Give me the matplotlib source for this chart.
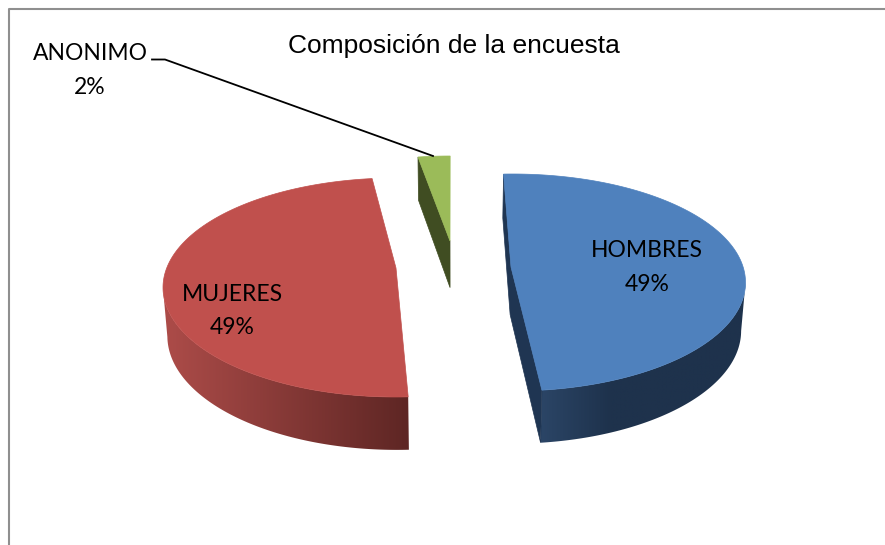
import matplotlib
matplotlib.use('Agg')
import matplotlib.pyplot as plt
import numpy as np
from matplotlib.colors import to_rgb
from matplotlib.patches import Polygon

title = 'Composición de la encuesta'
names = ['HOMBRES', 'MUJERES', 'ANONIMO']
shares = [48.5, 49.1, 2.2]
pct_labels = ['49%', '49%', '2%']

# posiciones en pixeles de la imagen
apex_x = [511, 396, 450]
apex_y = [267, 268, 241]
center_x = [512.5, 396, 450]
center_y = [282.5, 287.5, 264.5]
radius_y = [108.5, 109.5, 108.5]
start_deg = [92.2, -87, 97.9]
label_xy = [(647, 267.5), (232, 311), (90, 70.5)]

top_colors = ['#4f81bd', '#c0504d', '#9bbb59']
wall_left = ['#2b4566', '#ad4c49', '#404d22']
wall_right = ['#1e324c', '#5e2624', '#404d22']
inner_wall = ['#1f3552', None, '#404d22']

RX = 233
VANISH_X = 454


def lower(x, y):
    # la cara inferior se ve un poco mas chica y baja (perspectiva)
    x = np.asarray(x, dtype=float)
    y = np.asarray(y, dtype=float)
    return VANISH_X + (x - VANISH_X) * 0.985, y + 37 + 0.04 * y


def arc_points(i):
    sweep = shares[i] / sum(shares) * 360
    t = np.radians(np.linspace(start_deg[i], start_deg[i] - sweep, 200))
    x = center_x[i] + RX * np.cos(t)
    y = center_y[i] - radius_y[i] * np.sin(t)
    return x, y, t


def draw_wall(ax, i):
    x, y, t = arc_points(i)
    front = np.sin(t) <= 0
    x, y = x[front], y[front]
    if len(x) < 2:
        return
    lx, ly = lower(x, y)
    pts = list(zip(x, y)) + list(zip(lx[::-1], ly[::-1]))
    wall = Polygon(pts, closed=True, fc='none', ec='none', zorder=2)
    ax.add_patch(wall)

    # degradado horizontal recortado con la forma de la pared
    xmin, xmax = min(x.min(), lx.min()), max(x.max(), lx.max())
    # rojo: oscuro a la derecha, azul: oscuro a partir de x = 610
    xend = 610 if i == 0 else xmax
    xs = np.linspace(xmin, xmax, 256)
    f = np.clip((xs - xmin) / (xend - xmin), 0, 1)[None, :, None]
    c1 = np.array(to_rgb(wall_left[i]))
    c2 = np.array(to_rgb(wall_right[i]))
    grad = c1 + (c2 - c1) * f
    im = ax.imshow(grad, extent=[xmin, xmax, max(ly.max(), y.max()), min(ly.min(), y.min())],
                   aspect='auto', zorder=2, interpolation='bilinear')
    im.set_clip_path(wall)


def draw_inner(ax, i):
    if inner_wall[i] is None:
        return
    x, y, t = arc_points(i)
    # corte visible del lado izquierdo de la rebanada
    if i == 0:
        ex, ey = [x[0], apex_x[i], x[-1]], [y[0], apex_y[i], y[-1]]
    else:
        ex, ey = [x[0], apex_x[i]], [y[0], apex_y[i]]
    lx, ly = lower(ex, ey)
    pts = list(zip(ex, ey)) + list(zip(lx[::-1], ly[::-1]))
    ax.add_patch(Polygon(pts, closed=True, fc=inner_wall[i], ec=inner_wall[i], lw=0.5, zorder=2.5))


def draw_top(ax, i):
    x, y, t = arc_points(i)
    pts = [(apex_x[i], apex_y[i])] + list(zip(x, y))
    ax.add_patch(Polygon(pts, closed=True, fc=top_colors[i], ec=top_colors[i], lw=0.5, zorder=3))


def main():
    fig = plt.figure(figsize=(8.85, 5.45), dpi=100)
    ax = fig.add_axes([0, 0, 1, 1])
    ax.axis('off')

    # marco del grafico (se corta a la derecha y abajo)
    ax.plot([9, 9, 885], [545, 9, 9], color='#8f8f8f', lw=1.5, zorder=1)

    for i in range(len(names)):
        draw_wall(ax, i)
        draw_inner(ax, i)
        draw_top(ax, i)

    # linea guia de ANONIMO
    ax.plot([152, 165, 433], [59.5, 59.5, 156], color='black', lw=1.3, zorder=4)

    ax.text(453.5, 46.5, title, family='Liberation Sans', fontsize=19, color='black',
            ha='center', va='center', zorder=5)
    for i in range(len(names)):
        ax.text(label_xy[i][0], label_xy[i][1], names[i] + '\n' + pct_labels[i], family='Lato',
                fontsize=16.5, color='black', ha='center', va='center', linespacing=1.72, zorder=5)

    # imshow cambia los limites, se fijan al final
    ax.set_xlim(0, 885)
    ax.set_ylim(545, 0)
    fig.savefig('out.png', dpi=100)


if __name__ == '__main__':
    main()
